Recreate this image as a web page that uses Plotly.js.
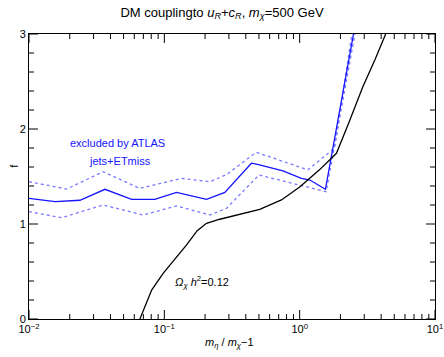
<!DOCTYPE html>
<html>
<head>
<meta charset="utf-8">
<script src="https://cdn.plot.ly/plotly-3.0.1.min.js"></script>
<style>
  html, body { margin: 0; padding: 0; background: #fff; }
  #plot { width: 444px; height: 357px; }
</style>
</head>
<body>
<div id="plot"></div>
<script>
// ATLAS jets+ETmiss exclusion (central + band) and relic-density curve

const limitX = [0.01, 0.0156, 0.0238, 0.0364, 0.0573, 0.085, 0.123, 0.205, 0.28, 0.44, 0.48, 0.753, 1.03, 1.19, 1.55, 2.50];
const limitF = [1.27, 1.235, 1.25, 1.365, 1.26, 1.26, 1.333, 1.26, 1.333, 1.64, 1.63, 1.56, 1.48, 1.463, 1.365, 3.0];

const upperX = [0.01, 0.019, 0.0353, 0.0659, 0.134, 0.217, 0.288, 0.478, 1.15, 1.81, 2.43];
const upperF = [1.445, 1.368, 1.55, 1.375, 1.48, 1.445, 1.52, 1.755, 1.57, 1.80, 3.0];

const lowerX = [0.01, 0.0174, 0.0353, 0.0698, 0.123, 0.217, 0.288, 0.50, 1.57, 2.56];
const lowerF = [1.13, 1.066, 1.2, 1.095, 1.19, 1.095, 1.165, 1.516, 1.34, 3.0];

const relicX = [0.066, 0.0806, 0.098, 0.125, 0.146, 0.175, 0.205, 0.257, 0.35, 0.507, 0.733, 1.0, 1.4, 1.87, 2.3, 2.93, 3.6, 4.32];
const relicF = [0, 0.305, 0.48, 0.66, 0.78, 0.93, 1.007, 1.05, 1.10, 1.155, 1.253, 1.39, 1.57, 1.744, 2.06, 2.445, 2.73, 3.0];

const xTickVals = [0.01, 0.1, 1, 10];
const xTickText = ['10<sup>−2</sup>', '10<sup>−1</sup>', '10<sup>0</sup>', '10<sup>1</sup>'];
const yTickVals = [0, 1, 2, 3];

const FONT = 'Liberation Sans, Arial, Helvetica, sans-serif';
const BLUE = '#1414ff';
const BAND = '#7a7aff';

// plot box in px; hidden overlay axes run in px so tick lengths are exact
const M = { l: 29, r: 9, t: 34, b: 38 };
const PW = 444 - M.l - M.r, PH = 357 - M.t - M.b;
const MAJ = 9, MIN = 5;

// native inside ticks did not show up here, so draw them as line traces
const xt = { x: [], y: [] }, yt = { x: [], y: [] };
function xTick(v, len) {
    xt.x.push(v, v, null, v, v, null);
    xt.y.push(0, len, null, PH, PH - len, null);
}
function yTick(v, len) {
    yt.x.push(0, len, null, PW, PW - len, null);
    yt.y.push(v, v, null, v, v, null);
}
xTickVals.forEach((d, i) => {
    xTick(d, MAJ);
    if (i < xTickVals.length - 1)
        for (let k = 2; k <= 9; k++) xTick(d * k, MIN);
});
yTickVals.forEach((v, i) => {
    yTick(v, MAJ);
    if (i < yTickVals.length - 1)
        for (let k = 1; k <= 4; k++) yTick(v + k * 0.2, MIN);
});

const tickLine = { color: 'black', width: 1 };
const data = [
    { x: upperX, y: upperF, mode: 'lines', line: { color: BAND, width: 1.3, dash: 'dot' } },
    { x: lowerX, y: lowerF, mode: 'lines', line: { color: BAND, width: 1.3, dash: 'dot' } },
    { x: limitX, y: limitF, mode: 'lines', line: { color: BLUE, width: 1.3 } },
    { x: relicX, y: relicF, mode: 'lines', line: { color: 'black', width: 1.3 } },
    { x: xt.x, y: xt.y, xaxis: 'x', yaxis: 'y2', mode: 'lines', line: tickLine, hoverinfo: 'skip' },
    { x: yt.x, y: yt.y, xaxis: 'x2', yaxis: 'y', mode: 'lines', line: tickLine, hoverinfo: 'skip' },
];

const layout = {
    width: 444, height: 357,
    paper_bgcolor: 'white', plot_bgcolor: 'white',
    font: { family: FONT, color: 'black', size: 11 },
    showlegend: false,
    margin: M,
    title: {
        text: 'DM couplingto <i>u<sub>R</sub></i>+<i>c<sub>R</sub></i>, <i>m<sub>χ</sub></i>=500 GeV',
        font: { size: 13, color: 'black' },
        x: 0.5, xanchor: 'center', y: 0.966, yanchor: 'middle',
    },
    xaxis: {
        type: 'log', range: [-2, 1],
        tickmode: 'array', tickvals: xTickVals, ticktext: xTickText, ticks: '',
        showline: true, linecolor: 'black', mirror: true,
        showgrid: false, zeroline: false,
    },
    yaxis: {
        range: [0, 3], tickmode: 'array', tickvals: yTickVals, ticks: '',
        showline: true, linecolor: 'black', mirror: true,
        showgrid: false, zeroline: false,
    },
    xaxis2: { overlaying: 'x', range: [0, PW], visible: false, fixedrange: true },
    yaxis2: { overlaying: 'y', range: [0, PH], visible: false, fixedrange: true },
    annotations: [
        { xref: 'paper', yref: 'paper', x: 0.495, y: -0.084, yanchor: 'middle', showarrow: false,
          text: '<i>m<sub>η</sub></i> / <i>m<sub>χ</sub></i>−1', font: { size: 11 } },
        { xref: 'paper', yref: 'paper', x: -0.057, y: 0.537, yanchor: 'middle', showarrow: false,
          text: 'f', textangle: -90, font: { size: 11 } },
        { x: Math.log10(0.0454), y: 1.853, text: 'excluded by ATLAS', showarrow: false,
          font: { size: 11, color: BLUE } },
        { x: Math.log10(0.047), y: 1.666, text: 'jets+ETmiss', showarrow: false,
          font: { size: 11, color: BLUE } },
        { x: Math.log10(0.189), y: 0.39, text: '<i>Ω<sub>χ</sub> h</i><sup>2</sup>=0.12', showarrow: false,
          font: { size: 11, color: 'black' } },
    ],
};

Plotly.newPlot('plot', data, layout, { displayModeBar: false });
</script>
</body>
</html>
